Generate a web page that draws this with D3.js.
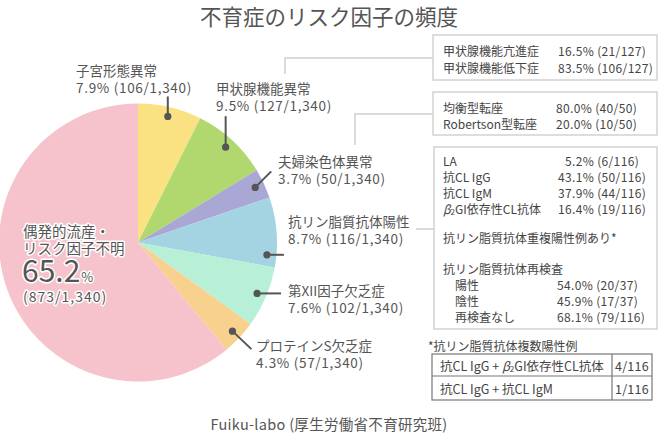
<!DOCTYPE html>
<html><head><meta charset="utf-8">
<script src="https://cdn.jsdelivr.net/npm/d3@7/dist/d3.min.js"></script>
<style>
body{margin:0;background:#fff;}
svg{display:block;font-family:"Noto Sans CJK JP","Noto Sans",sans-serif;}
</style></head>
<body><svg id="c" width="659" height="433"></svg>
<script>
// ---- data ----
const categories = ["子宮形態異常","甲状腺機能異常","夫婦染色体異常","抗リン脂質抗体陽性","第XII因子欠乏症","プロテインS欠乏症","偶発的流産・リスク因子不明"];
const percents = [7.9, 9.5, 3.7, 8.7, 7.6, 4.3, 65.2];
const counts = [106, 127, 50, 116, 102, 57, 873];
const total = 1340;
const colors = ["#fae283","#b0d86f","#a9a8d5","#a4d3e1","#b7efd7","#f8d18e","#f6c3cc"];

const thyroidRows = [["甲状腺機能亢進症","16.5% (21/127)"],["甲状腺機能低下症","83.5% (106/127)"]];
const chromRows = [["均衡型転座","80.0% (40/50)"],["Robertson型転座","20.0% (10/50)"]];
const aplRows = [["LA","5.2% (6/116)"],["抗CL IgG","43.1% (50/116)"],["抗CL IgM","37.9% (44/116)"],["β2GI依存性CL抗体","16.4% (19/116)"]];
const aplNote = "抗リン脂質抗体重複陽性例あり*";
const retestTitle = "抗リン脂質抗体再検査";
const retestRows = [["陽性","54.0% (20/37)"],["陰性","45.9% (17/37)"],["再検査なし","68.1% (79/116)"]];
const multiTitle = "*抗リン脂質抗体複数陽性例";
const multiRows = [["抗CL IgG + β2GI依存性CL抗体","4/116"],["抗CL IgG + 抗CL IgM","1/116"]];
const title = "不育症のリスク因子の頻度";
const source = "Fuiku-labo (厚生労働省不育研究班)";

// ---- drawing ----
const svg = d3.select("#c");
const txt = "#555";
const fmt = d3.format(",");
const cx = 138, cy = 242.5, R = 139;

svg.append("text").attr("x",329).attr("y",15).attr("text-anchor","middle")
  .attr("dominant-baseline","central").attr("font-size",21.5).attr("fill",txt).text(title);

const pie = d3.pie().sort(null).value(d=>d)(percents);
const arc = d3.arc().innerRadius(0).outerRadius(R);
const g = svg.append("g").attr("transform",`translate(${cx},${cy})`);
g.selectAll("path").data(pie).join("path").attr("d",arc).attr("fill",(d,i)=>colors[i]);

// label layout (positions only)
const layout = [
  {angOff:0, lx:76, ly:70, line:[[0,0],[0,-20]]},
  {angOff:0, lx:216, ly:88, line:[[0,0],[0,-31]]},
  {angOff:0, lx:278, ly:161, line:[[0,0],[16,-16]]},
  {angOff:0.17, lx:288, ly:221, line:[[0,0],[17,0]]},
  {angOff:0, lx:288, ly:290, line:[[0,0],[24,0]]},
  {angOff:0, lx:256, ly:345, line:[[0,0],[19,18]]}
];
const rDot = 129.5;
layout.forEach((L,i)=>{
  const d = pie[i];
  const a = (d.startAngle+d.endAngle)/2 + L.angOff;
  const px = cx + rDot*Math.sin(a), py = cy - rDot*Math.cos(a);
  svg.append("line").attr("x1",px+L.line[0][0]).attr("y1",py+L.line[0][1])
    .attr("x2",px+L.line[1][0]).attr("y2",py+L.line[1][1])
    .attr("stroke","#555").attr("stroke-width",2);
  svg.append("circle").attr("cx",px).attr("cy",py).attr("r",3.6).attr("fill","#555");
  const t = svg.append("text").attr("font-size",13.5).attr("fill",txt).attr("dominant-baseline","central");
  t.append("tspan").attr("x",L.lx).attr("y",L.ly).text(categories[i]);
  t.append("tspan").attr("x",L.lx).attr("y",L.ly+16.5).attr("letter-spacing",0.7)
    .text(`${percents[i].toFixed(1)}% (${counts[i]}/${fmt(total)})`);
});

// main slice label with white halo
const halo = sel => sel.attr("stroke","#fff").attr("stroke-width",3).attr("stroke-linejoin","round").attr("paint-order","stroke");
const parts = categories[6].split("・");
halo(svg.append("text").attr("x",23).attr("y",230).attr("font-size",14.5).attr("fill",txt).attr("dominant-baseline","central").text(parts[0]+"・"));
halo(svg.append("text").attr("x",23).attr("y",247).attr("font-size",14.5).attr("fill",txt).attr("dominant-baseline","central").text(parts[1]));
const big = svg.append("text").attr("x",22).attr("y",282).attr("fill",txt);
halo(big);
big.append("tspan").attr("font-size",30).text(percents[6].toFixed(1));
big.append("tspan").attr("font-size",13).attr("dx",1).text("%");
halo(svg.append("text").attr("x",23).attr("y",296).attr("font-size",14).attr("letter-spacing",1)
  .attr("fill",txt).attr("dominant-baseline","central").text(`(${counts[6]}/${fmt(total)})`));

// connectors
const conn = "#cfcfcf";
const path = (pts)=>svg.append("path").attr("d",d3.line()(pts)).attr("fill","none").attr("stroke",conn).attr("stroke-width",1.5);
path([[285,74],[285,58],[433,58]]);
path([[355,145],[355,114],[433,114]]);
path([[416,229],[434,229]]);

// boxes
const box = (x,y,w,h)=>svg.append("rect").attr("x",x).attr("y",y).attr("width",w).attr("height",h)
  .attr("fill","#fff").attr("stroke","#d2d2d2").attr("stroke-width",1.5);
const row = (x,y,s,size,ls)=>{
  const t = svg.append("text").attr("x",x).attr("y",y).attr("font-size",size||12).attr("fill","#444").attr("dominant-baseline","central");
  if (ls) t.attr("letter-spacing",ls);
  if (s.startsWith("β2")) {
    t.append("tspan").attr("font-style","italic").text("β");
    t.append("tspan").attr("font-size",8).attr("dy",3).text("2");
    t.append("tspan").attr("dy",-3).text(s.slice(2));
  } else if (s.includes("β2")) {
    const [a,b] = s.split("β2");
    t.append("tspan").text(a);
    t.append("tspan").attr("font-style","italic").text("β");
    t.append("tspan").attr("font-size",8).attr("dy",3).text("2");
    t.append("tspan").attr("dy",-3).text(b);
  } else t.text(s);
  return t;
};

box(433,35,224,45);
thyroidRows.forEach((r,i)=>{ row(443,50+i*17,r[0]); row(558,50+i*17,r[1],12,0.35); });
box(433,92,224,43);
chromRows.forEach((r,i)=>{ row(443,107+i*16.5,r[0]); row(556,107+i*16.5,r[1],12,0.35); });
box(434,147,223,182);
aplRows.forEach((r,i)=>{ row(443,160+i*16,r[0]); row(i===0?565:558,160+i*16,r[1],12,0.35); });
row(443,237,aplNote);
row(443,268,retestTitle);
retestRows.forEach((r,i)=>{ row(455,284+i*16,r[0]); row(557,284+i*16,r[1],12,0.35); });

// footnote table
row(428,345,multiTitle);
const tx=432, tw=220, tys=[354,376,400], colX=612;
svg.append("rect").attr("x",tx).attr("y",tys[0]).attr("width",tw).attr("height",tys[2]-tys[0])
  .attr("fill","none").attr("stroke","#777").attr("stroke-width",1.2);
svg.append("line").attr("x1",tx).attr("x2",tx+tw).attr("y1",tys[1]).attr("y2",tys[1]).attr("stroke","#777").attr("stroke-width",1.2);
svg.append("line").attr("x1",colX).attr("x2",colX).attr("y1",tys[0]).attr("y2",tys[2]).attr("stroke","#777").attr("stroke-width",1.2);
multiRows.forEach((r,i)=>{
  const yc=(tys[i]+tys[i+1])/2;
  row(440,yc,r[0],12.5);
  row((colX+tx+tw)/2,yc,r[1],12.5,0.3).attr("text-anchor","middle");
});

svg.append("text").attr("x",329).attr("y",423).attr("text-anchor","middle").attr("dominant-baseline","central")
  .attr("font-size",14.5).attr("letter-spacing",0.3).attr("fill",txt).text(source);
</script></body></html>
